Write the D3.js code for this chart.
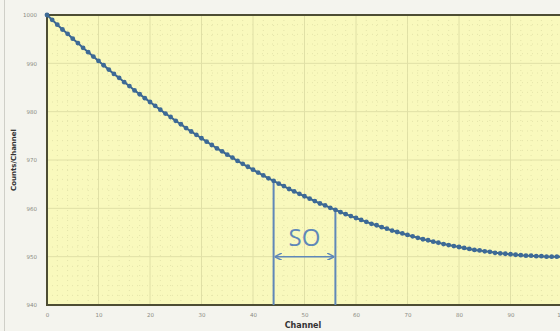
<!DOCTYPE html>
<meta charset="utf-8">
<html>
  <head>
    <script src="https://d3js.org/d3.v7.min.js"></script>
    <style>
      body { margin: 0; background: #f4f4ee; }
      svg { display: block; }
    </style>
  </head>
  <body>
    <div id="chart"></div>
    <script type="text/javascript">

        // channel numbers and counts
        var channels = [0,1,2,3,4,5,6,7,8,9,10,11,12,13,14,15,16,17,18,19,20,
            21,22,23,24,25,26,27,28,29,30,31,32,33,34,35,36,37,38,39,40,
            41,42,43,44,45,46,47,48,49,50,51,52,53,54,55,56,57,58,59,60,
            61,62,63,64,65,66,67,68,69,70,71,72,73,74,75,76,77,78,79,80,
            81,82,83,84,85,86,87,88,89,90,91,92,93,94,95,96,97,98,99,100];
        var counts = [1000,999.0,998.0,997.0,996.1,995.1,994.2,993.2,992.3,991.4,990.5,
            989.6,988.7,987.8,987.0,986.1,985.3,984.4,983.6,982.8,982.0,
            981.2,980.4,979.6,978.9,978.1,977.4,976.6,975.9,975.2,974.5,
            973.8,973.1,972.4,971.8,971.1,970.5,969.8,969.2,968.6,968.0,
            967.4,966.8,966.2,965.7,965.1,964.6,964.0,963.5,963.0,962.5,
            962.0,961.5,961.0,960.6,960.1,959.7,959.2,958.8,958.4,958.0,
            957.6,957.2,956.8,956.5,956.1,955.8,955.4,955.1,954.8,954.5,
            954.2,953.9,953.6,953.4,953.1,952.9,952.6,952.4,952.2,952.0,
            951.8,951.6,951.4,951.3,951.1,951.0,950.8,950.7,950.6,950.5,
            950.4,950.3,950.2,950.2,950.1,950.1,950.0,950.0,950.0,950.0];

        var x_ticks = [0,10,20,30,40,50,60,70,80,90,100];
        var y_ticks = [940,950,960,970,980,990,1000];

        // S0 window (channels)
        var s0_range = [44, 56];
        var s0_label = "SO";

        var total_width = 560, total_height = 331;
        var margin = {top: 15, left: 47, bottom: 26};
        var plot_h = total_height - margin.top - margin.bottom;

        var data = channels.map(function(c, i){ return {ch: c, cnt: counts[i]}; });

        var svg = d3.select("#chart").append("svg")
            .attr("width", total_width)
            .attr("height", total_height);

        // left frame line of the outer panel
        svg.append("line")
            .attr("x1", 4.5).attr("x2", 4.5)
            .attr("y1", 0).attr("y2", total_height)
            .attr("stroke", "#cfcfc8").attr("stroke-width", 1);

        var x = d3.scaleLinear().domain([0, 100]).range([margin.left, margin.left + 515]);
        var y = d3.scaleLinear().domain([940, 1000]).range([margin.top + plot_h, margin.top]);

        var g = svg.append("g");

        g.append("rect")
            .attr("x", x(0)).attr("y", y(1000))
            .attr("width", x(100) - x(0) + 20)
            .attr("height", y(940) - y(1000))
            .attr("fill", "#f9f9bd");

        // minor grid every 2 units, major every 10
        var minor_x = d3.range(2, 101, 2), minor_y = d3.range(942, 1000, 2);
        g.append("g").selectAll("line")
            .data(minor_x).enter().append("line")
            .attr("x1", function(d){ return x(d); }).attr("x2", function(d){ return x(d); })
            .attr("y1", y(1000)).attr("y2", y(940))
            .attr("stroke", function(d){ return d % 10 == 0 ? "#e0e0a6" : "#e4e4aa"; })
            .attr("stroke-width", 1)
            .attr("stroke-dasharray", function(d){ return d % 10 == 0 ? null : "1,4"; });
        g.append("g").selectAll("line")
            .data(minor_y).enter().append("line")
            .attr("x1", x(0)).attr("x2", total_width)
            .attr("y1", function(d){ return y(d); }).attr("y2", function(d){ return y(d); })
            .attr("stroke", function(d){ return d % 10 == 0 ? "#e0e0a6" : "#e4e4aa"; })
            .attr("stroke-width", 1)
            .attr("stroke-dasharray", function(d){ return d % 10 == 0 ? null : "1,4"; });

        // plot frame
        g.append("path")
            .attr("d", "M" + total_width + "," + y(1000) + "H" + x(0) + "V" + y(940) + "H" + total_width)
            .attr("fill", "none")
            .attr("stroke", "#4d4d33")
            .attr("stroke-width", 2);

        // axes
        var x_axis = d3.axisBottom(x).tickValues(x_ticks).tickSize(0).tickPadding(8).tickFormat(d3.format("d"));
        var y_axis = d3.axisLeft(y).tickValues(y_ticks).tickSize(0).tickPadding(10).tickFormat(d3.format("d"));

        var gx = svg.append("g").attr("transform", "translate(0," + y(940) + ")").call(x_axis);
        var gy = svg.append("g").attr("transform", "translate(" + x(0) + ",0)").call(y_axis);
        [gx, gy].forEach(function(a){
            a.select(".domain").remove();
            a.selectAll("text")
                .attr("fill", "#8a8a82")
                .style("font-family", "DejaVu Sans")
                .style("font-size", "5.5px");
        });

        svg.append("text")
            .attr("x", 303).attr("y", 328)
            .attr("text-anchor", "middle")
            .style("font-family", "DejaVu Sans")
            .style("font-size", "8px")
            .style("font-weight", "bold")
            .attr("fill", "#333333")
            .text("Channel");

        svg.append("text")
            .attr("transform", "translate(16," + y(970) + ") rotate(-90)")
            .attr("text-anchor", "middle")
            .style("font-family", "DejaVu Sans")
            .style("font-size", "7px")
            .style("font-weight", "bold")
            .attr("fill", "#333333")
            .text("Counts/Channel");

        // S0 annotation
        var ann_color = "#6088b8";
        s0_range.forEach(function(c){
            svg.append("line")
                .attr("x1", x(c)).attr("x2", x(c))
                .attr("y1", y(counts[channels.indexOf(c)])).attr("y2", y(940))
                .attr("stroke", ann_color).attr("stroke-width", 2);
        });

        var arrow_y = y(950);
        svg.append("defs").append("marker")
            .attr("id", "ah").attr("viewBox", "0 0 10 10")
            .attr("refX", 10).attr("refY", 5)
            .attr("markerWidth", 5).attr("markerHeight", 5)
            .attr("orient", "auto-start-reverse")
            .append("path").attr("d", "M0,0 L10,5 L0,10")
            .attr("fill", "none").attr("stroke", ann_color).attr("stroke-width", 2);

        svg.append("line")
            .attr("x1", x(s0_range[0]) + 1).attr("x2", x(s0_range[1]) - 1)
            .attr("y1", arrow_y).attr("y2", arrow_y)
            .attr("stroke", ann_color).attr("stroke-width", 1.5)
            .attr("marker-start", "url(#ah)").attr("marker-end", "url(#ah)");

        svg.append("text")
            .attr("x", (x(s0_range[0]) + x(s0_range[1])) / 2)
            .attr("y", y(952.2))
            .attr("text-anchor", "middle")
            .style("font-family", "Open Sans")
            .style("font-size", "24px")
            .attr("fill", ann_color)
            .text(s0_label);

        // curve with markers
        var line = d3.line()
            .x(function(d){ return x(d.ch); })
            .y(function(d){ return y(d.cnt); });

        svg.append("path")
            .datum(data)
            .attr("d", line)
            .attr("fill", "none")
            .attr("stroke", "#3b6590")
            .attr("stroke-width", 2);

        svg.append("g").selectAll("circle")
            .data(data).enter().append("circle")
            .attr("cx", function(d){ return x(d.ch); })
            .attr("cy", function(d){ return y(d.cnt); })
            .attr("r", 2.4)
            .attr("fill", "#3d6a96");
    </script>
  </body>
</html>
